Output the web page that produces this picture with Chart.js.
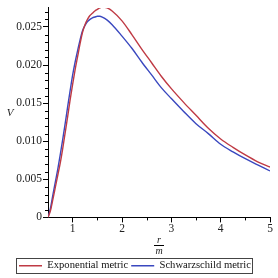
<!DOCTYPE html>
<html>
<head>
<meta charset="utf-8">
<script src="https://cdn.jsdelivr.net/npm/chart.js@4"></script>
<style>
  html, body { margin: 0; padding: 0; background: #fff; }
  #wrap { width: 278px; height: 278px; }
</style>
</head>
<body>
<div id="wrap"><canvas id="chart" width="278" height="278"></canvas></div>
<script>
// r/m sample points shared by both curves
const rValues = [0.5, 0.55, 0.6, 0.65, 0.7, 0.75, 0.8, 0.85, 0.9, 0.95, 1.0, 1.05, 1.1, 1.15, 1.2, 1.25, 1.3, 1.35, 1.4, 1.45, 1.5, 1.55, 1.6, 1.7, 1.8, 2.0, 2.2, 2.4, 2.6, 2.8, 3.0, 3.25, 3.5, 3.75, 4.0, 4.25, 4.5, 4.75, 5.0];

// V
const exponentialV = [0, 0.0009, 0.0024, 0.0040, 0.0056, 0.0072, 0.0091, 0.0112, 0.0133, 0.0155, 0.0175, 0.0194, 0.0211, 0.0228, 0.0243, 0.0253, 0.0260, 0.0265, 0.0268, 0.0271, 0.0273, 0.0275, 0.0276, 0.0275, 0.0271, 0.0258, 0.0240, 0.0221, 0.0203, 0.0185, 0.0169, 0.0151, 0.0134, 0.0117, 0.0103, 0.0092, 0.0082, 0.0073, 0.0066];
const schwarzschildV = [0, 0.0012, 0.0030, 0.0047, 0.0064, 0.0083, 0.0103, 0.0124, 0.0146, 0.0167, 0.0187, 0.0204, 0.0219, 0.0233, 0.0245, 0.0252, 0.0257, 0.0260, 0.0262, 0.0263, 0.0264, 0.0264, 0.0263, 0.0259, 0.0253, 0.0238, 0.0222, 0.0204, 0.0187, 0.0170, 0.0156, 0.0139, 0.0123, 0.0110, 0.0096, 0.0086, 0.0077, 0.0069, 0.0061];

const seriesNames = ['Exponential metric', 'Schwarzschild metric'];
const xTicks = [1, 2, 3, 4, 5];
const yTicks = [0, 0.005, 0.010, 0.015, 0.020, 0.025];
const xMinorTicks = [1.5, 2.5, 3.5, 4.5];
const yMinorTicks = [0.001, 0.002, 0.003, 0.004, 0.006, 0.007, 0.008, 0.009, 0.011, 0.012, 0.013, 0.014, 0.016, 0.017, 0.018, 0.019, 0.021, 0.022, 0.023, 0.024, 0.026, 0.027];

const serif = 'Liberation Serif';
const toPoints = (ys) => rValues.map((r, i) => ({ x: r, y: ys[i] }));

// minor ticks, axis labels and legend frame
const extras = {
    id: 'extras',
    afterDraw(chart) {
        const ctx = chart.ctx;
        const xs = chart.scales.x, ys = chart.scales.y;
        const area = chart.chartArea;
        ctx.save();
        ctx.strokeStyle = '#000';
        ctx.lineWidth = 1;
        ctx.beginPath();
        xMinorTicks.forEach(v => {
            const px = Math.round(xs.getPixelForValue(v)) + 0.5;
            ctx.moveTo(px, area.bottom);
            ctx.lineTo(px, area.bottom + 3);
        });
        yMinorTicks.forEach(v => {
            const py = Math.round(ys.getPixelForValue(v)) + 0.5;
            ctx.moveTo(area.left, py);
            ctx.lineTo(area.left - 3, py);
        });
        ctx.stroke();

        // V label
        ctx.fillStyle = '#222';
        ctx.font = 'italic 11px "' + serif + '"';
        ctx.textAlign = 'center';
        ctx.textBaseline = 'middle';
        ctx.fillText('V', 10, (area.top + area.bottom) / 2);

        // r / m fraction
        const cx = (area.left + area.right) / 2;
        ctx.font = 'italic 10px "' + serif + '"';
        ctx.fillText('r', cx, 240);
        ctx.fillText('m', cx, 251);
        ctx.beginPath();
        ctx.moveTo(cx - 5, 245.5);
        ctx.lineTo(cx + 5, 245.5);
        ctx.stroke();

        // legend frame
        const boxes = chart.legend.legendHitBoxes;
        if (boxes && boxes.length) {
            const first = boxes[0], last = boxes[boxes.length - 1];
            const l = first.left - 3, r = last.left + last.width + 1;
            const t = first.top - 2, b = first.top + first.height + 2;
            ctx.strokeStyle = '#444';
            ctx.strokeRect(Math.round(l) + 0.5, Math.round(t) + 0.5, Math.round(r - l), Math.round(b - t));
        }
        ctx.restore();
    }
};

new Chart(document.getElementById('chart'), {
    type: 'line',
    data: {
        datasets: [{
            label: seriesNames[0],
            data: toPoints(exponentialV),
            borderColor: '#bf3a44',
            backgroundColor: '#bf3a44',
            borderWidth: 1.4,
            pointRadius: 0,
            cubicInterpolationMode: 'monotone'
        }, {
            label: seriesNames[1],
            data: toPoints(schwarzschildV),
            borderColor: '#3a48bf',
            backgroundColor: '#3a48bf',
            borderWidth: 1.4,
            pointRadius: 0,
            cubicInterpolationMode: 'monotone'
        }]
    },
    options: {
        responsive: false,
        animation: false,
        layout: { padding: { left: 0, right: 8, top: 6, bottom: -3 } },
        scales: {
            x: {
                type: 'linear',
                min: 0.5,
                max: 5,
                afterBuildTicks: (axis) => { axis.ticks = xTicks.map(v => ({ value: v })); },
                afterFit: (axis) => { axis.height = 40; },
                grid: { drawOnChartArea: false, color: '#000', tickLength: 5 },
                border: { color: '#000' },
                ticks: { color: '#222', padding: 0, maxRotation: 0, font: { family: serif, size: 11.5 } }
            },
            y: {
                min: 0,
                max: 0.0275,
                afterBuildTicks: (axis) => { axis.ticks = yTicks.map(v => ({ value: v })); },
                afterFit: (axis) => { axis.width = 48; },
                grid: { drawOnChartArea: false, color: '#000', tickLength: 5 },
                border: { color: '#000' },
                ticks: {
                    color: '#222',
                    padding: 1,
                    font: { family: serif, size: 11.5 },
                    callback: (v) => v === 0 ? '0' : v.toFixed(3)
                }
            }
        },
        plugins: {
            legend: {
                position: 'bottom',
                labels: {
                    usePointStyle: true,
                    pointStyle: 'line',
                    pointStyleWidth: 23,
                    boxHeight: 11,
                    padding: 3,
                    color: '#111',
                    font: { family: serif, size: 10.6 }
                }
            },
            tooltip: { enabled: false }
        }
    },
    plugins: [extras]
});
</script>
</body>
</html>
